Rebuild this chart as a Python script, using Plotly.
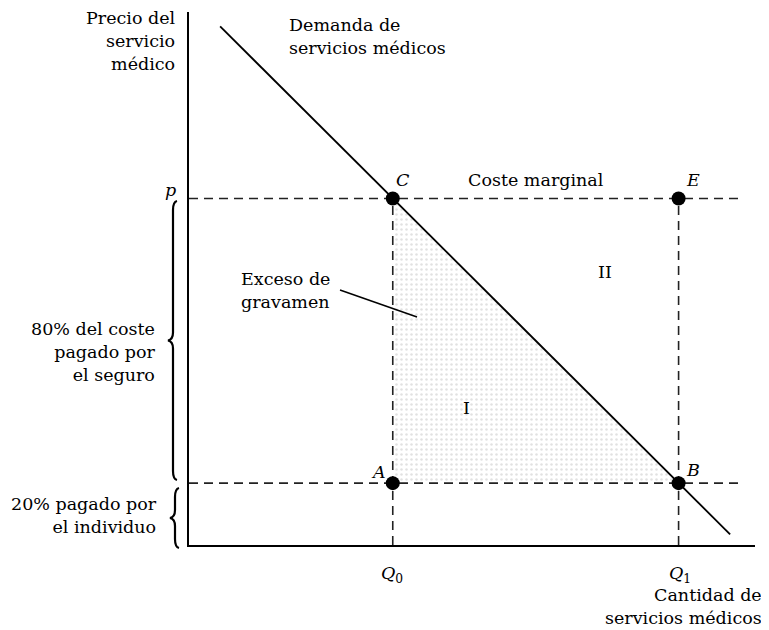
import plotly.graph_objects as go

# data (quantity 0-100, price 0-100)
demand_q = [5.5, 95.6]
demand_p = [97.3, 2.0]
q0, q1 = 36.0, 86.5
p_full, p_paid = 65.0, 11.6
pt_labels = ["A", "C", "B", "E"]
pt_q = [q0, q0, q1, q1]
pt_p = [p_paid, p_full, p_paid, p_full]

FONT = "DejaVu Serif"
OFF = 8  # page body margin
W, H = 769 - OFF, 630 - OFF
# plot area in page pixels: x 189..755, y 12..545
PX0, PX1, PY0, PY1 = 189, 755, 12, 545

def X(px):
    return (px - PX0) / (PX1 - PX0)

def Y(py):
    return (PY1 - py) / (PY1 - PY0)

fig = go.Figure()

# excess burden triangle
fig.add_trace(go.Scatter(
    x=[q0, q0, q1, q0], y=[p_paid, p_full, p_paid, p_paid],
    mode="lines", line=dict(width=0), fill="toself",
    fillcolor="rgba(0,0,0,0)",
    fillpattern=dict(shape=".", fgcolor="#c4c4c4", bgcolor="white", size=5, solidity=0.2),
    hoverinfo="skip"))

dash = dict(color="#222", width=1.6, dash="9px,6px")
for p in (p_full, p_paid):
    fig.add_trace(go.Scatter(x=[0, 97], y=[p, p], mode="lines", line=dash))
for q in (q0, q1):
    fig.add_trace(go.Scatter(x=[q, q], y=[0, p_full], mode="lines", line=dash))

# demand curve
fig.add_trace(go.Scatter(x=demand_q, y=demand_p, mode="lines",
                         line=dict(color="black", width=1.8)))

# points
fig.add_trace(go.Scatter(x=pt_q, y=pt_p, mode="markers",
                         marker=dict(color="black", size=14)))

# leader line for "Exceso de gravamen"
fig.add_shape(type="line", x0=X(340), y0=Y(290), x1=X(417), y1=Y(317),
              xref="paper", yref="paper", line=dict(color="black", width=1.5))

def brace(x, y1, y2, tip):
    ym = (y1 + y2) / 2
    pts = (f"M {X(x+4)},{Y(y1)} Q {X(x)},{Y(y1+1)} {X(x)},{Y(y1+9)} "
           f"L {X(x)},{Y(ym-8)} Q {X(x)},{Y(ym-1)} {X(tip)},{Y(ym)} "
           f"Q {X(x)},{Y(ym+1)} {X(x)},{Y(ym+8)} "
           f"L {X(x)},{Y(y2-9)} Q {X(x)},{Y(y2-1)} {X(x+4)},{Y(y2)}")
    fig.add_shape(type="path", path=pts, xref="paper", yref="paper",
                  line=dict(color="black", width=2.2))

brace(173, 201, 480, 168)
brace(175, 488, 548, 170)

def txt(s, px, py, xa="center", align="center", size=17.5):
    fig.add_annotation(text=s, x=X(px), y=Y(py), xref="paper", yref="paper",
                       showarrow=False, xanchor=xa, yanchor="middle", align=align,
                       font=dict(family=FONT, size=size, color="black"))

txt("Precio del<br>servicio<br>médico", 178, 41, "right", "right")
txt("<i>p</i>", 170, 190)
txt("80% del coste<br>pagado por<br>el seguro", 158, 352, "right", "right")
txt("20% pagado por<br>el individuo", 159, 515, "right", "right")
txt("Demanda de<br>servicios médicos", 287, 37, "left", "left")
txt("Coste marginal", 536, 180)
txt("<i>C</i>", 403, 180)
txt("<i>E</i>", 693, 180)
txt("<i>A</i>", 378, 472)
txt("<i>B</i>", 693, 470)
txt("<i>Q</i><sub>0</sub>", 392, 574)
txt("<i>Q</i><sub>1</sub>", 680, 574)
txt("Cantidad de<br>servicios médicos", 764, 606, "right", "right")
txt("Exceso de<br>gravamen", 239, 290, "left", "left")
txt("I", 466, 408)
txt("II", 605, 272)

ax = dict(range=[0, 100], showline=True, linecolor="black", linewidth=2,
          showticklabels=False, ticks="", showgrid=False, zeroline=False)
fig.update_layout(
    width=W, height=H,
    margin=dict(l=PX0 - OFF, r=W - (PX1 - OFF), t=PY0 - OFF, b=H - (PY1 - OFF)),
    paper_bgcolor="white", plot_bgcolor="white", showlegend=False,
    xaxis=ax, yaxis=ax)

fig.write_html("out.html")
